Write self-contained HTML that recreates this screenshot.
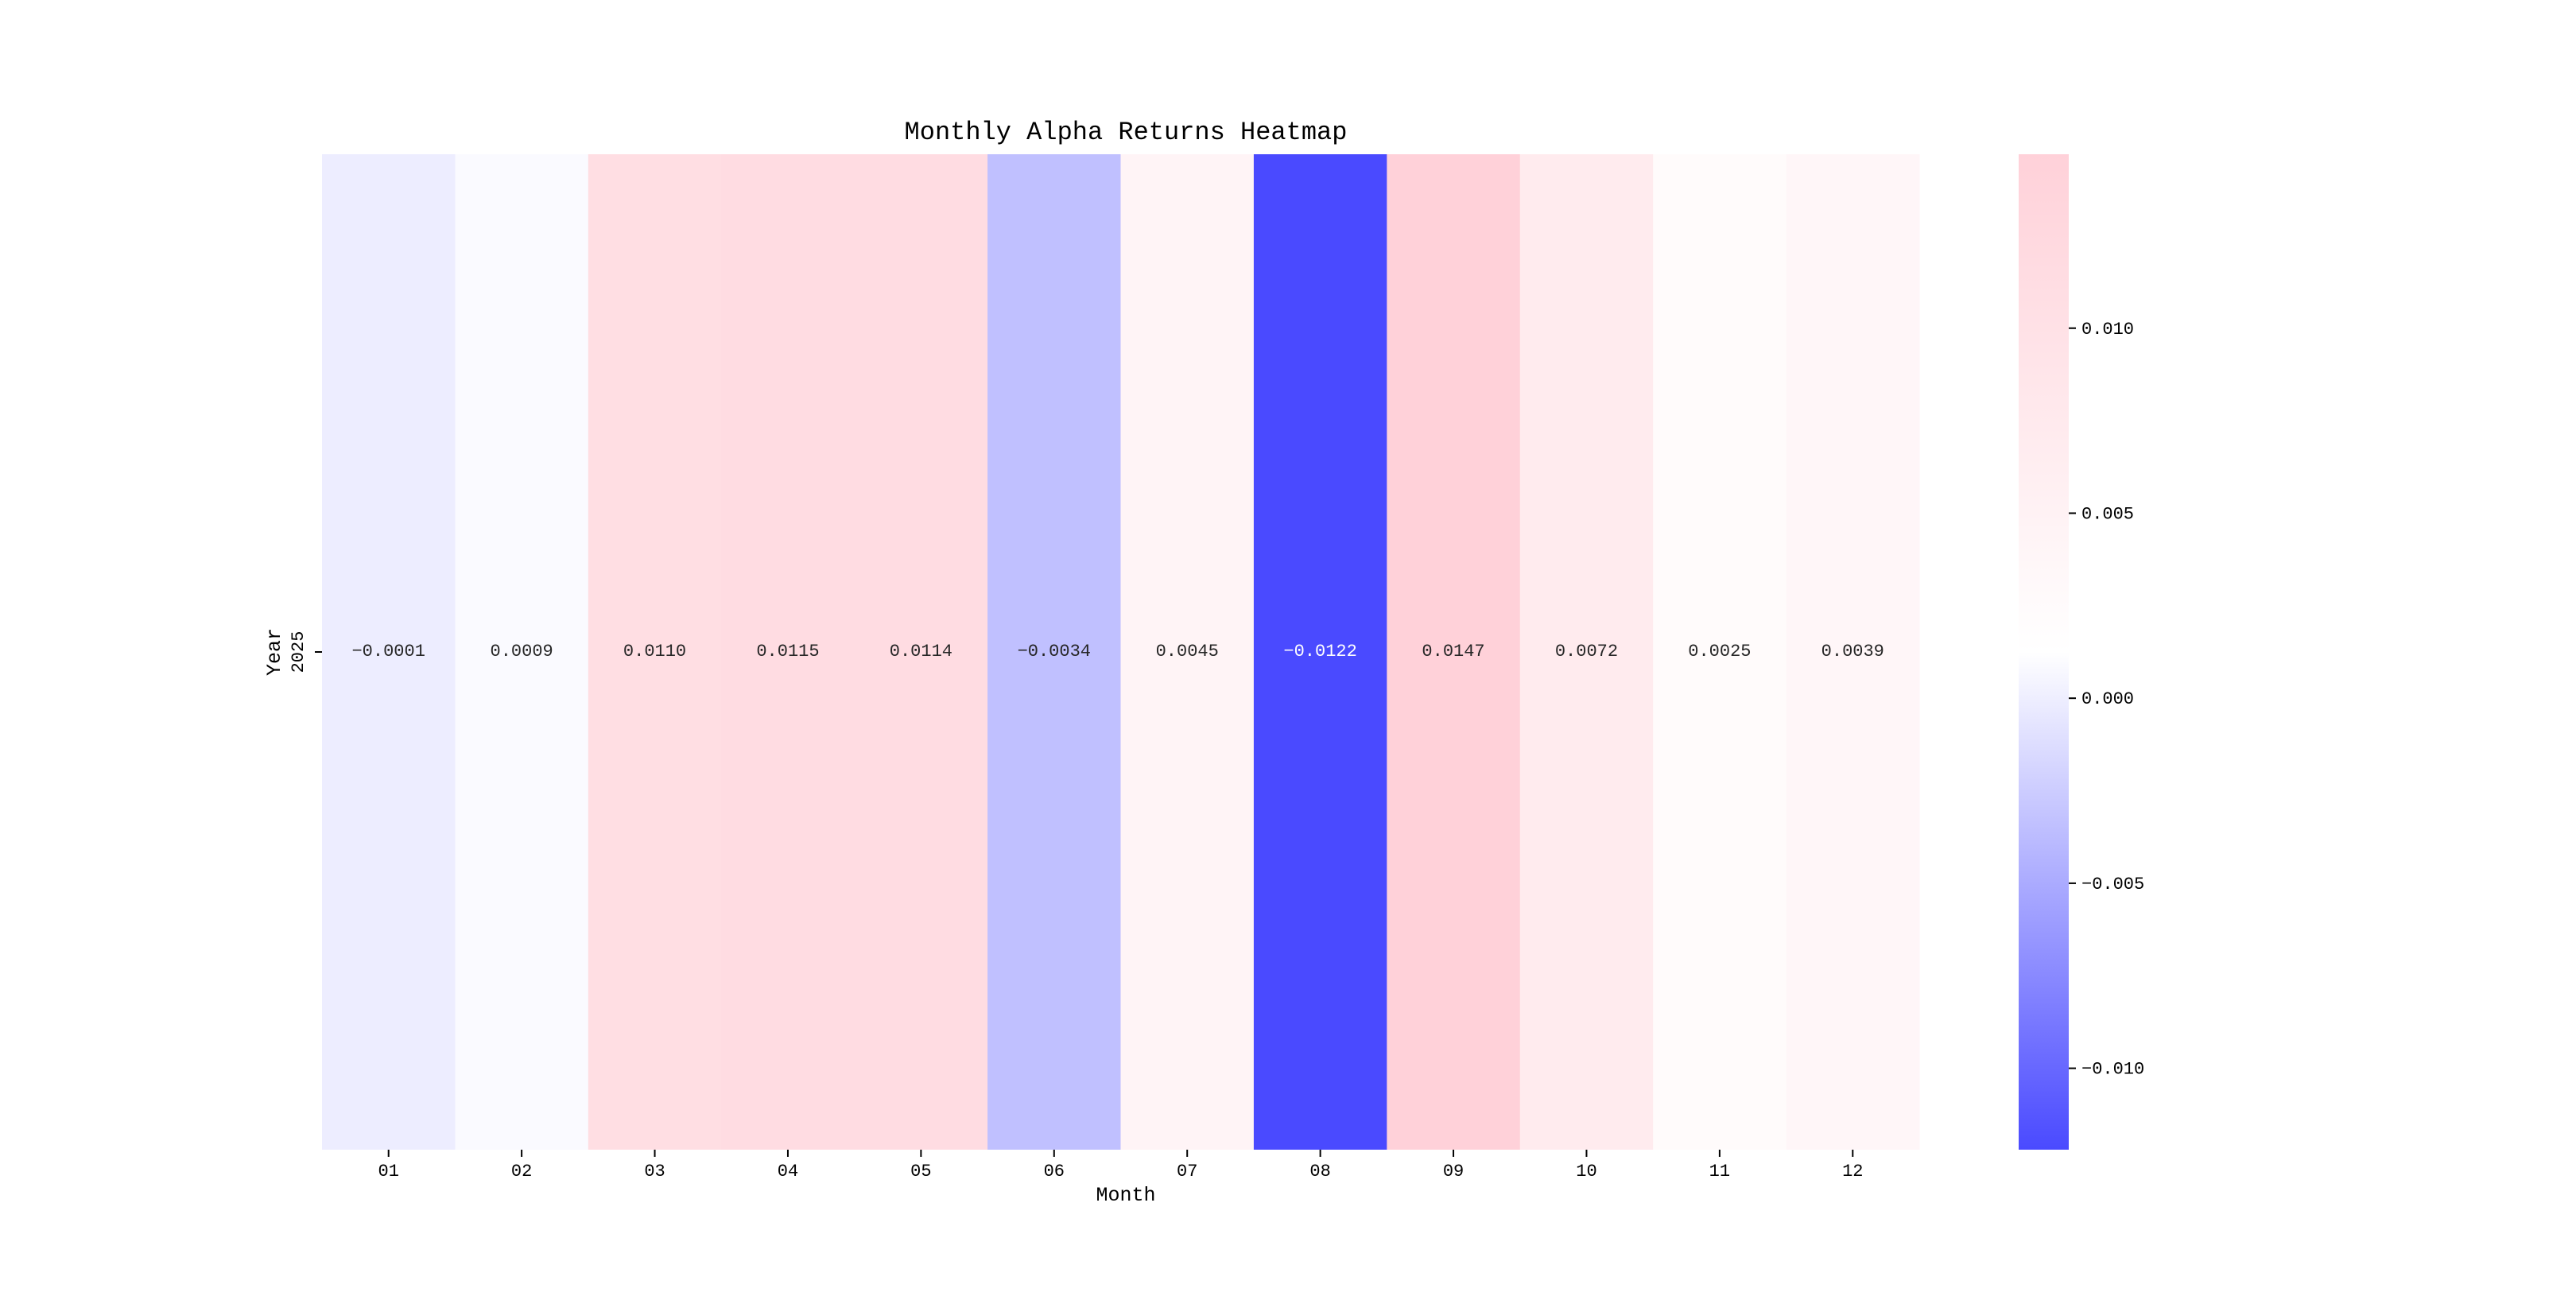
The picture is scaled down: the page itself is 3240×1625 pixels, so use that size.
<!DOCTYPE html>
<html><head><meta charset="utf-8"><style>
html,body{margin:0;padding:0;background:#fff;}
svg text{font-family:"Liberation Mono","WenQuanYi Zen Hei",monospace;}
</style></head><body>
<svg id="chart" width="3240" height="1620" viewBox="0 0 3240 1620" xmlns="http://www.w3.org/2000/svg">
<defs>
<linearGradient id="cbgrad" x1="0" y1="1" x2="0" y2="0">
<stop offset="0" stop-color="#4a4aff"/>
<stop offset="0.5" stop-color="#ffffff"/>
<stop offset="1" stop-color="#ffd1d9"/>
</linearGradient>
</defs>
<text x="1416" y="175" font-size="32" text-anchor="middle" fill="#000">Monthly Alpha Returns Heatmap</text>
<g id="cells"></g>
<g id="xticks"></g>
<text x="1416" y="1510" font-size="25" text-anchor="middle" fill="#000">Month</text>
<text transform="translate(352,820) rotate(-90)" font-size="25" text-anchor="middle" fill="#000">Year</text>
<g id="yticks"></g>
<rect x="2539" y="194" width="63" height="1252" fill="url(#cbgrad)"/>
<g id="cbticks"></g>
</svg>
<script>
const months = ["01","02","03","04","05","06","07","08","09","10","11","12"];
const years = ["2025"];
const alphaValues = [-0.0001, 0.0009, 0.0110, 0.0115, 0.0114, -0.0034, 0.0045, -0.0122, 0.0147, 0.0072, 0.0025, 0.0039];
const cbTickValues = [0.010, 0.005, 0.000, -0.005, -0.010];
const cbTickLabels = ["0.010", "0.005", "0.000", "\u22120.005", "\u22120.010"];

const NS = "http://www.w3.org/2000/svg";
const L = 405, R = 2414, T = 194, B = 1446;
const vmin = Math.min(...alphaValues), vmax = Math.max(...alphaValues);
const cw = (R - L) / months.length;
const rh = (B - T) / years.length;
function xPos(i){ return L + i * cw; }
function yPos(j){ return T + j * rh; }
function cbY(v){ return B - (v - vmin) / (vmax - vmin) * (B - T); }
function color(v){
  const t = (v - vmin) / (vmax - vmin);
  const lo = [74,74,255], mid = [255,255,255], hi = [255,209,217];
  let a, b, u;
  if (t < 0.5) { a = lo; b = mid; u = t / 0.5; } else { a = mid; b = hi; u = (t - 0.5) / 0.5; }
  const c = a.map((x, k) => Math.round(x + (b[k] - x) * u));
  return { css: `rgb(${c[0]},${c[1]},${c[2]})`, lum: (0.299*c[0] + 0.587*c[1] + 0.114*c[2]) };
}
function mk(tag, attrs, parent){
  const e = document.createElementNS(NS, tag);
  for (const k in attrs) e.setAttribute(k, attrs[k]);
  parent.appendChild(e); return e;
}
const cells = document.getElementById("cells");
const xt = document.getElementById("xticks");
years.forEach((yr, j) => {
  alphaValues.forEach((v, i) => {
    const c = color(v);
    const r = mk("rect", {x: xPos(i), y: yPos(j), width: cw + 0.5, height: rh, fill: c.css}, cells);
    
    
    const t = mk("text", {x: xPos(i) + cw/2, y: yPos(j) + rh/2 + 5, "font-size": 22, "text-anchor": "middle", fill: c.lum < 140 ? "#fff" : "#262626"}, cells);
    t.textContent = (v < 0 ? "\u2212" : "") + Math.abs(v).toFixed(4);
    
    
  });
});
months.forEach((m, i) => {
  const cx = xPos(i) + cw/2;
  const tk = mk("line", {x1: cx, x2: cx, y1: B, y2: B + 9, stroke: "#000", "stroke-width": 2}, xt);
  
  
  const t = mk("text", {x: cx, y: B + 33, "font-size": 22, "text-anchor": "middle", fill: "#000"}, xt);
  t.textContent = m;
  
  
});
const yt = document.getElementById("yticks");
years.forEach((yr, j) => {
  const cy = yPos(j) + rh/2;
  const tk = mk("line", {x1: L - 9, x2: L, y1: cy, y2: cy, stroke: "#000", "stroke-width": 2}, yt);
  
  
  const t = mk("text", {transform: `translate(381,${cy}) rotate(-90)`, "font-size": 22, "text-anchor": "middle", fill: "#000"}, yt);
  t.textContent = yr;
  
  
});
const cbt = document.getElementById("cbticks");
cbTickValues.forEach((v, k) => {
  const y = cbY(v);
  const tk = mk("line", {x1: 2602, x2: 2611, y1: y, y2: y, stroke: "#000", "stroke-width": 2}, cbt);
  
  
  const t = mk("text", {x: 2618, y: y + 7, "font-size": 22, fill: "#000"}, cbt);
  t.textContent = cbTickLabels[k];
  
  
});
</script>
</body></html>
